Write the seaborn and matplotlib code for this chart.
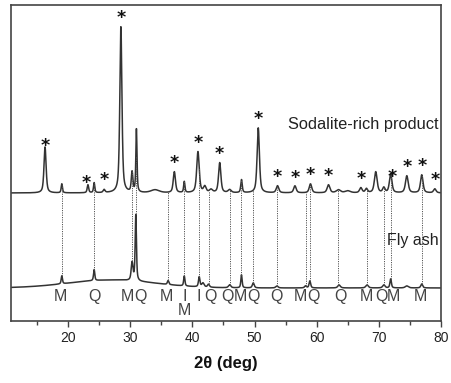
import numpy as np
import pandas as pd
import matplotlib
matplotlib.use("Agg")
import matplotlib.pyplot as plt
import seaborn as sns

# ---- data (2theta in deg, intensity in arbitrary units) ----
x_min, x_max = 10.9, 80.0

# Sodalite-rich product: peak positions, heights, half widths
prod_pos = [16.3, 19.0, 23.2, 24.2, 25.8, 28.5, 30.3, 31.0, 34.0, 37.1, 38.7, 40.9, 42.0, 43.0,
            44.4, 46.0, 47.9, 50.6, 53.7, 56.5, 59.0, 61.9, 63.5, 65.0, 67.1, 68.0, 69.5,
            70.8, 71.9, 74.5, 76.9, 79.0]
prod_hgt = [46, 9, 8, 10, 3, 166, 20, 63, 3, 21, 11, 41, 6, 3,
            30, 3, 13, 65, 7, 7, 9, 8, 3, 2, 5, 4, 21,
            5, 19, 17, 18, 4]
prod_wid = [0.2, 0.12, 0.14, 0.12, 0.18, 0.2, 0.15, 0.11, 0.8, 0.21, 0.12, 0.24, 0.25, 0.3,
            0.22, 0.3, 0.14, 0.22, 0.24, 0.24, 0.24, 0.26, 0.4, 0.5, 0.24, 0.22, 0.26,
            0.22, 0.24, 0.26, 0.24, 0.24]
prod_base = 128

# Fly ash: peak positions, heights, half widths (incl. broad amorphous hump)
ash_pos = [27.0, 19.0, 24.2, 30.3, 30.9, 36.1, 38.7, 41.1, 41.7, 42.6, 46.0, 47.9, 49.8,
           53.6, 58.2, 58.9, 63.6, 68.1, 70.8, 71.9, 74.5, 76.9]
ash_hgt = [8, 8, 11, 18, 66, 4, 10, 10, 4, 3, 3, 13, 5,
           2, 2, 7, 3, 3, 3, 9, 2, 4]
ash_wid = [7.0, 0.12, 0.12, 0.17, 0.12, 0.14, 0.12, 0.14, 0.22, 0.18, 0.22, 0.12, 0.18,
           0.22, 0.18, 0.15, 0.24, 0.24, 0.22, 0.14, 0.3, 0.18]
ash_base = 33

# dotted reference lines linking fly-ash reflections to the product pattern
ref_lines = [19.0, 24.2, 30.3, 30.9, 36.1, 38.7, 41.1, 42.6, 46.0, 47.9, 49.8, 53.6,
             58.2, 58.9, 63.5, 68.1, 70.8, 71.9, 76.9]

# sodalite reflections marked with *
star_pos = [16.4, 22.9, 25.8, 28.5, 37.1, 40.9, 44.4, 50.6, 53.7, 56.6, 59.0, 61.9,
            67.1, 72.2, 74.5, 76.9, 79.0]

# phase labels of fly ash (M = mullite, Q = quartz, I = iron oxide)
phase_text = ["M", "Q", "M", "Q", "M", "I", "M", "I", "Q", "Q", "M", "Q", "Q", "M", "Q",
              "Q", "M", "Q", "M", "M"]
phase_x = [18.8, 24.2, 29.5, 31.6, 35.9, 38.7, 38.7, 41.1, 42.9, 45.6, 47.8, 49.9, 53.5,
           57.4, 59.5, 63.8, 68.0, 70.4, 72.4, 76.7]
phase_row = [0, 0, 0, 0, 0, 0, 1, 0, 0, 0, 0, 0, 0, 0, 0, 0, 0, 0, 0, 0]

x_ticks = [20, 30, 40, 50, 60, 70, 80]

# ---- build the patterns from the peak lists ----
tt = np.arange(x_min, x_max + 0.01, 0.02)


def pattern(pos, hgt, wid, base):
    y = np.full_like(tt, float(base))
    for p, h, w in zip(pos, hgt, wid):
        if w > 2:
            y += h * np.exp(-0.5 * ((tt - p) / w) ** 2)
        else:
            lor = 1.0 / (1.0 + ((tt - p) / w) ** 2)
            gau = np.exp(-np.log(2) * ((tt - p) / w) ** 2)
            y += h * (0.6 * lor + 0.4 * gau)
    return y


prod = pattern(prod_pos, prod_hgt, prod_wid, prod_base)
ash = pattern(ash_pos, ash_hgt, ash_wid, ash_base)

df = pd.concat([
    pd.DataFrame({"tt": tt, "I": prod, "s": "Sodalite-rich product"}),
    pd.DataFrame({"tt": tt, "I": ash, "s": "Fly ash"}),
])

sns.set_theme(style="white")
plt.rcParams["font.family"] = ["Liberation Sans", "DejaVu Sans"]

fig = plt.figure(figsize=(4.52, 3.83), dpi=100)
ax = fig.add_axes([0.0254, 0.162, 0.9503, 0.825])

sns.lineplot(data=df, x="tt", y="I", hue="s", palette=["#333333", "#333333"],
             linewidth=1.1, legend=False, ax=ax, estimator=None, sort=False)

for xv in ref_lines:
    y0 = np.interp(xv, tt, ash)
    y1 = np.interp(xv, tt, prod)
    ax.plot([xv, xv], [y0, y1], linestyle=(0, (1.2, 1.2)), color="#555555", linewidth=0.7)

for xv in star_pos:
    ax.text(xv, np.interp(xv, tt, prod) + 9, "*", ha="center", va="center",
            fontsize=12.5, fontweight="bold", color="#111111", family="DejaVu Sans")

for t, xv, r in zip(phase_text, phase_x, phase_row):
    ax.text(xv, 24 - 14 * r, t, ha="center", va="center", fontsize=11.5, color="#444444")

ax.text(79.6, 196, "Sodalite-rich product", ha="right", va="center", fontsize=11.8, color="#222222")
ax.text(79.6, 80, "Fly ash", ha="right", va="center", fontsize=11.5, color="#222222")

ax.set_xlim(x_min, x_max)
ax.set_ylim(0, 316)
ax.set_xticks(x_ticks)
ax.set_xticks(np.arange(15, 80, 10), minor=True)
ax.set_yticks([])
ax.tick_params(axis="x", which="major", direction="out", length=4, width=1, color="#444444",
               labelsize=10, pad=3, bottom=True, labelcolor="#222222")
ax.tick_params(axis="x", which="minor", direction="out", length=3, width=1, color="#444444",
               bottom=True)
ax.set_xlabel("2θ (deg)", fontsize=12, fontweight="bold", labelpad=8, color="#111111")
ax.set_ylabel("")
for sp in ax.spines.values():
    sp.set_color("#444444")
    sp.set_linewidth(1.2)

fig.savefig("out.png", dpi=100)
